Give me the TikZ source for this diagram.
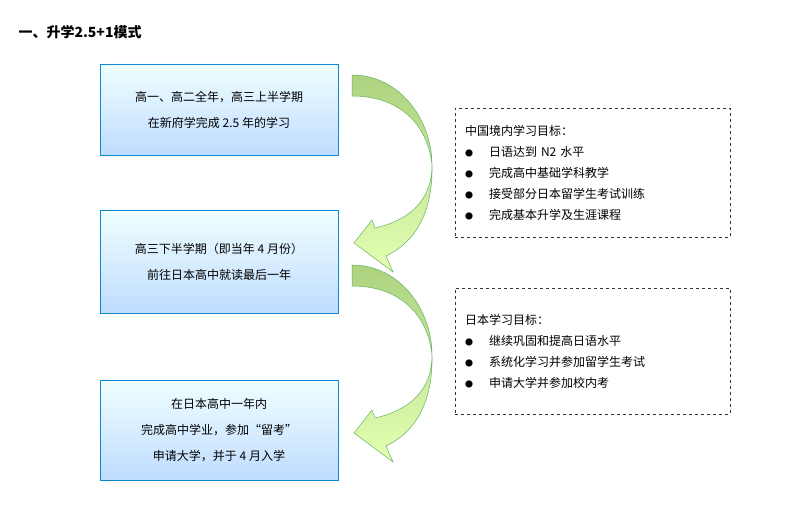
\documentclass[tikz,border=0pt]{standalone}
\usepackage{fontspec}
\setmainfont{Noto Sans CJK SC}
\begin{document}
\begin{tikzpicture}[x=1pt, y=-1pt,
  stagebox/.style={draw=cyan!70!blue, line width=0.9pt, top color=cyan!6, bottom color=cyan!45!blue!25!white, minimum width=238pt, align=center, font=\fontsize{12}{26}\selectfont},
  goalbox/.style={draw=black!80, dashed, line width=0.8pt, text width=255pt, align=left, font=\fontsize{12}{21}\selectfont, inner xsep=10pt},
  bendarrow/.style={draw=green!50!black!60, line width=0.5pt, top color=green!30!olive!50, bottom color=green!35!yellow!30}]
\useasboundingbox (0,0) rectangle (801,513);
% Title
\node[anchor=west, font=\bfseries\fontsize{14}{16}\selectfont] (title) at (15,32) {一、升学2.5+1模式};

% Stages
\node[stagebox, minimum height=91pt] (s1) at (219,109.5) {高一、高二全年，高三上半学期\\在新府学完成 2.5 年的学习};
\node[stagebox, minimum height=103pt] (s2) at (219,261.5) {高三下半学期（即当年 4 月份）\\前往日本高中就读最后一年};
\node[stagebox, minimum height=100pt] (s3) at (219,430) {在日本高中一年内\\完成高中学业，参加“留考”\\申请大学，并于 4 月入学};

% Goals
\node[goalbox, minimum height=129pt] (g1) at (592.5,172.5) {中国境内学习目标：\\
{\footnotesize●}\hspace{16pt}日语达到 N2 水平\\
{\footnotesize●}\hspace{16pt}完成高中基础学科教学\\
{\footnotesize●}\hspace{16pt}接受部分日本留学生考试训练\\
{\footnotesize●}\hspace{16pt}完成基本升学及生涯课程};
\node[goalbox, minimum height=126pt] (g2) at (592.5,351) {日本学习目标：\\
{\footnotesize●}\hspace{16pt}继续巩固和提高日语水平\\
{\footnotesize●}\hspace{16pt}系统化学习并参加留学生考试\\
{\footnotesize●}\hspace{16pt}申请大学并参加校内考};

% Arrows
\foreach \dy in {0,190}{
\begin{scope}[yshift=-\dy pt]
\path[bendarrow] (352,75) .. controls (400,75) and (432,120) .. (432,165)
  .. controls (432,200) and (410,220) .. (375,228) -- (372,220) -- (354,243) -- (393,272) -- (386,256)
  .. controls (420,240) and (433,205) .. (432,165)
  .. controls (428,125) and (400,96) .. (352,96) -- cycle;
\end{scope}}
\end{tikzpicture}
\end{document}
